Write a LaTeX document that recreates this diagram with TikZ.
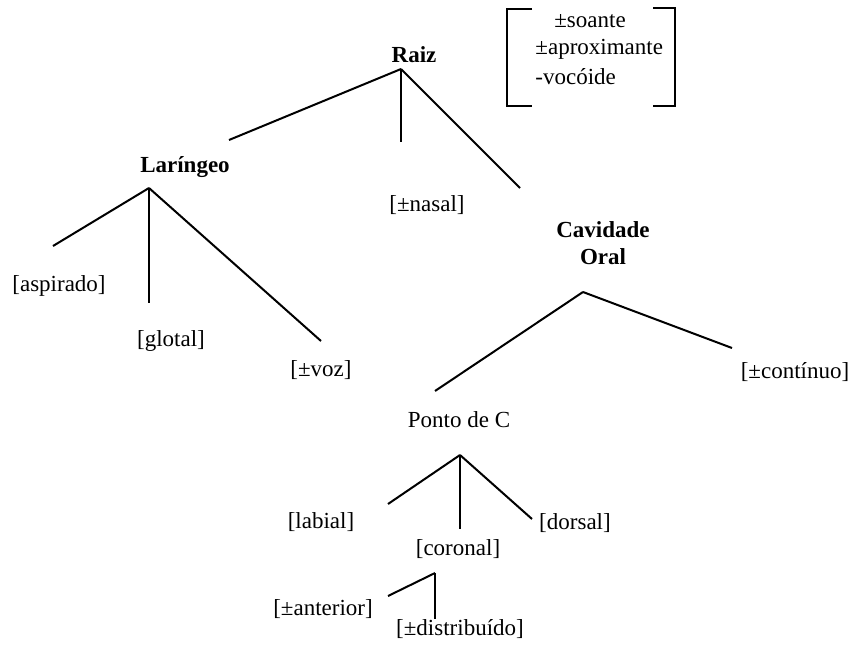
\documentclass[tikz,border=0pt]{standalone}
\usepackage{fontspec}
\setmainfont{Liberation Serif}
\usepackage{tikz}
\usetikzlibrary{positioning}

\tikzset{
  feat/.style={inner sep=0pt, font=\fontsize{11.5}{13.5}\selectfont},
  tier/.style={feat, font=\fontsize{11.5}{13.5}\selectfont\bfseries, anchor=base},
  branch/.style={line width=1pt}
}

\begin{document}
\begin{tikzpicture}[x=0.5pt, y=-0.5pt]
    \useasboundingbox (0,0) rectangle (854,653);

    % Tier labels
    \node[tier] (raiz) at (414,62) {Raiz};
    \node[tier] (laringeo) at (185,172) {Laríngeo};
    \node[tier, align=center] (cavidade) at (603,264) {Cavidade\\Oral};
    \node[feat, anchor=base] (ponto) at (459,427) {Ponto de C};

    % Feature labels
    \node[feat] (nasal) at (427,205) {[±nasal]};
    \node[feat] (aspirado) at (59,286) {[aspirado]};
    \node[feat] (glotal) at (171,341) {[glotal]};
    \node[feat] (voz) at (321,370) {[±voz]};
    \node[feat] (continuo) at (795,372) {[±contínuo]};
    \node[feat] (labial) at (321,522) {[labial]};
    \node[feat] (coronal) at (458,549) {[coronal]};
    \node[feat] (dorsal) at (575,523) {[dorsal]};
    \node[feat] (anterior) at (323,609) {[±anterior]};
    \node[feat] (distribuido) at (460,629) {[±distribuído]};

    % Root features in brackets
    \node[feat] (soante) at (590,21) {±soante};
    \node[feat, anchor=west] (aproximante) at (535,49) {±aproximante};
    \node[feat, anchor=west] (vocoide) at (535,77) {-vocóide};
    \draw[branch] (532,9) -- (507,9) -- (507,106) -- (532,106);
    \draw[branch] (653,8) -- (675,8) -- (675,106) -- (653,106);

    % Branch points and free ends
    \coordinate (raiz-top) at (401,69);
    \coordinate (raiz-l) at (229,140);
    \coordinate (raiz-m) at (401,142);
    \coordinate (raiz-r) at (520,188);
    \coordinate (lar-top) at (149,188);
    \coordinate (lar-l) at (53,246);
    \coordinate (lar-m) at (149,303);
    \coordinate (lar-r) at (321,341);
    \coordinate (cav-top) at (583,292);
    \coordinate (cav-l) at (435,391);
    \coordinate (cav-r) at (732,348);
    \coordinate (ponto-top) at (460,455);
    \coordinate (ponto-l) at (388,504);
    \coordinate (ponto-m) at (460,529);
    \coordinate (ponto-r) at (532,519);
    \coordinate (cor-top) at (435,573);
    \coordinate (cor-l) at (388,596);
    \coordinate (cor-m) at (435,619);

    % Draw branches
    \foreach \e in {raiz-l, raiz-m, raiz-r}
      \draw[branch] (raiz-top) -- (\e);
    \foreach \e in {lar-l, lar-m, lar-r}
      \draw[branch] (lar-top) -- (\e);
    \foreach \e in {cav-l, cav-r}
      \draw[branch] (cav-top) -- (\e);
    \foreach \e in {ponto-l, ponto-m, ponto-r}
      \draw[branch] (ponto-top) -- (\e);
    \foreach \e in {cor-l, cor-m}
      \draw[branch] (cor-top) -- (\e);

\end{tikzpicture}
\end{document}
